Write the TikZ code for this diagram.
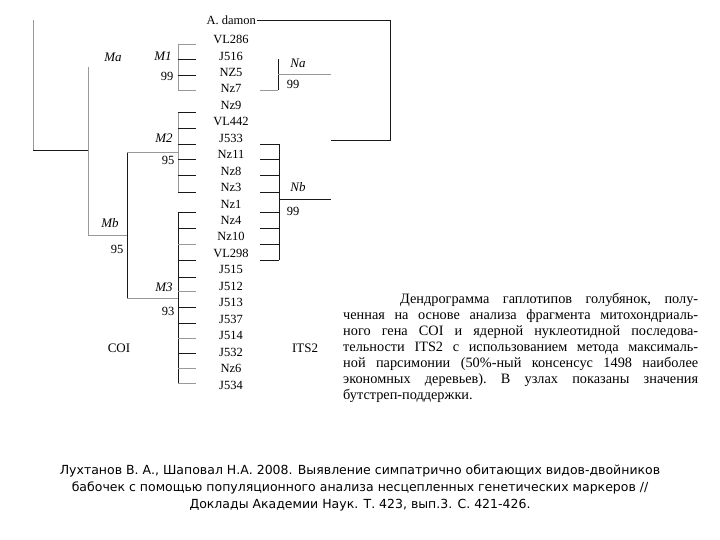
\documentclass[tikz,border=0pt]{standalone}
\usepackage{fontspec}
\setmainfont{Liberation Serif}
\newfontfamily\capfont{DejaVu Sans}

\begin{document}
\begin{tikzpicture}[x=1pt,y=-1pt,
  leaf/.style={font=\fontsize{12.5}{14}\selectfont,inner sep=1pt},
  clade/.style={font=\fontsize{13}{15}\selectfont\itshape,inner sep=0pt},
  boot/.style={font=\fontsize{12.5}{14}\selectfont,inner sep=0pt},
  br/.style={line width=0.9pt,black!90},
  lt/.style={line width=0.9pt,black!40}]
\useasboundingbox (0,0) rectangle (720,540);
% leaves, one per row; t\i marks the height of that row's tick
\node[leaf,anchor=east] (l0) at (257,20) {A.~damon};
\foreach \t/\ty [count=\i] in {VL286/44,J516/59,NZ5/75,Nz7/90,Nz9/112,VL442/128,J533/144,Nz11/159,Nz8/175,Nz3/192,Nz1/212,Nz4/228,Nz10/244,VL298/260,J515/277,J512/291,J513/307,J537/323,J514/338,J532/353,Nz6/368,J534/383}{
  \node[leaf] (l\i) at (231,{23.05+16.45*\i}) {\t};
  \coordinate (t\i) at (0,\ty);
}
% branch points, COI tree
\coordinate (root) at (33,150);
\coordinate (ma) at (88,150);
\coordinate (mb) at (127,235);
\coordinate (m1) at (178,67);
\coordinate (m2) at (178,152);
\coordinate (m3) at (178,298);
% branch points, ITS2 tree
\coordinate (na) at (278,74);
\coordinate (nb) at (279,199);
\coordinate (itsroot) at (331,140);
\coordinate (dam) at (390,140);
% COI backbone
\draw[lt] (root |- l0) -- (root);
\draw[br] (root) -- (ma);
\draw[lt] (ma |- m1) -- (ma |- mb);
\draw[lt] (ma |- mb) -- (mb);
\draw[br] (mb |- m2) -- (mb |- m3);
\draw[lt] (mb |- m2) -- (m2);
\draw[lt] (mb |- m3) -- (m3);
% M1 comb
\draw[lt] (m1 |- t1) -- (m1 |- t4);
\foreach \i in {2,3} \draw[br] (m1 |- t\i) -- ++(18,0);
\foreach \i in {1,4} \draw[lt] (m1 |- t\i) -- ++(18,0);
% M2 comb
\draw[lt] (m2 |- t5) -- (m2 |- t10);
\foreach \i in {5,...,10} \draw[br] (m2 |- t\i) -- ++(18,0);
% M3 comb
\draw[br] (m3 |- t11) -- (m3 |- t22);
\foreach \i in {11,12,14,15,17,18,20} \draw[br] (m3 |- t\i) -- ++(18,0);
\foreach \i in {13,16,19,21,22} \draw[lt] (m3 |- t\i) -- ++(18,0);
% ITS2 tree
\draw[br] (l0.east) -| (dam) -- (itsroot);
\draw[br] (na |- t2) -- (na |- t4);
\draw[lt] (na |- t4) -- ++(-18,0);
\draw[lt] (na) -- (na -| itsroot);
\draw[br] (nb |- t7) -- (nb |- t14);
\foreach \i in {7,...,14} \draw[br] (nb |- t\i) -- ++(-19,0);
\draw[br] (nb) -- (nb -| itsroot);
% clade names and bootstrap values
\node[clade] (ma-l) at (113,57) {Ma};
\node[clade] (m1-l) at (163,56) {M1};
\node[boot] (m1-b) at (167,76) {99};
\node[clade] (m2-l) at (164,138) {M2};
\node[boot] (m2-b) at (168,160) {95};
\node[clade] (mb-l) at (110,223) {Mb};
\node[boot] (mb-b) at (117,249) {95};
\node[clade] (m3-l) at (164,287) {M3};
\node[boot] (m3-b) at (168,311) {93};
\node[clade] (na-l) at (298,63) {Na};
\node[boot] (na-b) at (293,84) {99};
\node[clade] (nb-l) at (298,187) {Nb};
\node[boot] (nb-b) at (293,211) {99};
\node[font=\fontsize{13}{15}\selectfont] (coi) at (119,348) {COI};
\node[font=\fontsize{13}{15}\selectfont] (its) at (305,348) {ITS2};
% figure legend
\node[anchor=north west,inner sep=0pt,text width=355pt,align=justify,
  font=\fontsize{14.3}{16}\selectfont] (legend) at (343,293)
  {\frenchspacing\hyphenpenalty=10000 \exhyphenpenalty=10000
   \hspace*{57pt}Дендрограмма гаплотипов голубянок, полу-\linebreak
   ченная на основе анализа фрагмента митохондриаль-\linebreak
   ного гена COI и ядерной нуклеотидной последова-\linebreak
   тельности ITS2 с использованием метода максималь-\linebreak
   ной парсимонии (50\%-ный консенсус 1498 наиболее\linebreak
   экономных деревьев). В узлах показаны значения\linebreak
   бутстреп-поддержки.};
% reference
\node[align=center,font=\capfont\fontsize{12.5}{17}\selectfont] (ref) at (360,488)
  {Лухтанов В. А., Шаповал Н.А. 2008. Выявление симпатрично обитающих видов-двойников\\
   бабочек с помощью популяционного анализа несцепленных генетических маркеров //\\
   Доклады Академии Наук. Т. 423, вып.3. С. 421-426.};
\end{tikzpicture}
\end{document}
